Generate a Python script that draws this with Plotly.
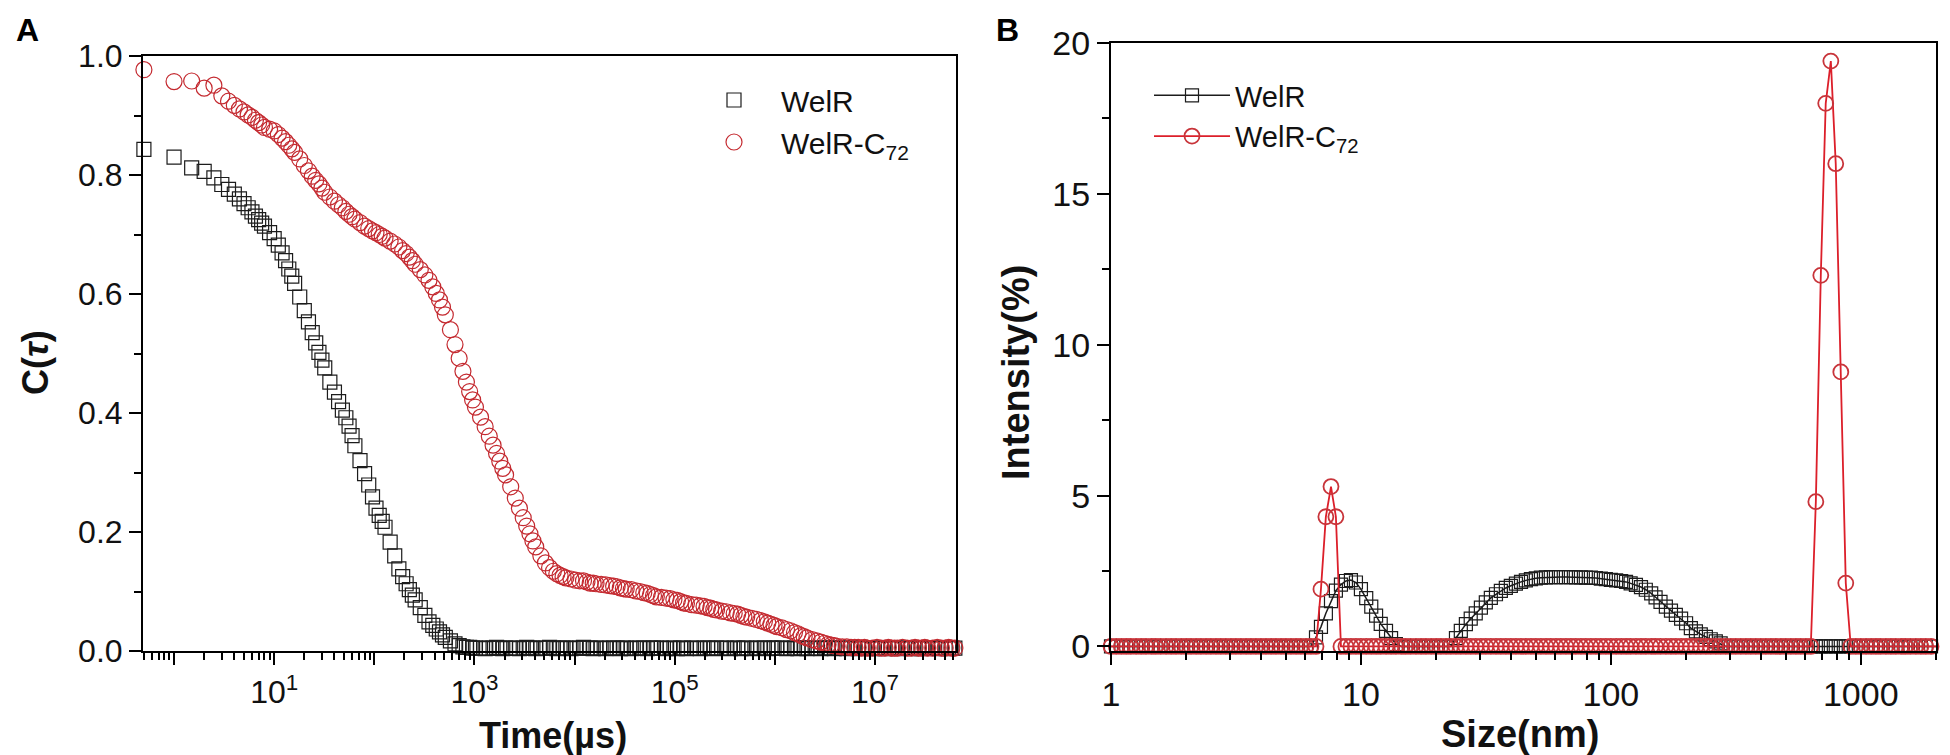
import plotly.graph_objects as go

# ---- panel A: autocorrelation C(tau) on the multi-tau lag grid (us) ----
TIME_US = [
    0.5, 1, 1.5, 2, 2.5, 3, 3.5, 4, 4.5, 5, 5.5, 6, 6.5, 7, 7.5, 8,
    9, 10, 11, 12, 13, 14, 15, 16,
    18, 20, 22, 24, 26, 28, 30, 32,
    36, 40, 44, 48, 52, 56, 60, 64,
    72, 80, 88, 96, 104, 112, 120, 128,
    144, 160, 176, 192, 208, 224, 240, 256,
    288, 320, 352, 384, 416, 448, 480, 512,
    576, 640, 704, 768, 832, 896, 960, 1024,
    1152, 1280, 1408, 1536, 1664, 1792, 1920, 2048,
    2304, 2560, 2816, 3072, 3328, 3584, 3840, 4096,
    4608, 5120, 5632, 6144, 6656, 7168, 7680, 8192,
    9216, 10240, 11264, 12288, 13312, 14336, 15360, 16384,
    18432, 20480, 22528, 24576, 26624, 28672, 30720, 32768,
    36864, 40960, 45056, 49152, 53248, 57344, 61440, 65536,
    73728, 81920, 90112, 98304, 106496, 114688, 122880, 131072,
    147456, 163840, 180224, 196608, 212992, 229376, 245760, 262144,
    294912, 327680, 360448, 393216, 425984, 458752, 491520, 524288,
    589824, 655360, 720896, 786432, 851968, 917504, 983040, 1048576,
    1179648, 1310720, 1441792, 1572864, 1703936, 1835008, 1966080, 2097152,
    2359296, 2621440, 2883584, 3145728, 3407872, 3670016, 3932160, 4194304,
    4718592, 5242880, 5767168, 6291456, 6815744, 7340032, 7864320, 8388608,
    9437184, 10485760, 11534336, 12582912, 13631488, 14680064, 15728640, 16777216,
    18874368, 20971520, 23068672, 25165824, 27262976, 29360128, 31457280, 33554432,
    37748736, 41943040, 46137344, 50331648, 54525952, 58720256, 62914560,
]
CT_WELR = [
    0.843, 0.830, 0.812, 0.806, 0.795, 0.784, 0.776, 0.768, 0.760, 0.752, 0.745, 0.738, 0.731, 0.725, 0.719, 0.714,
    0.703, 0.693, 0.682, 0.669, 0.656, 0.642, 0.630, 0.618,
    0.595, 0.572, 0.553, 0.535, 0.518, 0.502, 0.489, 0.476,
    0.452, 0.435, 0.419, 0.405, 0.392, 0.378, 0.362, 0.345,
    0.320, 0.298, 0.279, 0.259, 0.240, 0.228, 0.218, 0.208,
    0.183, 0.160, 0.138, 0.125, 0.113, 0.103, 0.094, 0.086,
    0.073, 0.060, 0.049, 0.043, 0.037, 0.032, 0.027, 0.023,
    0.017, 0.012, 0.009, 0.007, 0.006, 0.006, 0.005, 0.005,
    0.005, 0.004, 0.005, 0.005, 0.006, 0.005, 0.004, 0.005,
    0.005, 0.005, 0.004, 0.005, 0.006, 0.005, 0.005, 0.004,
    0.005, 0.005, 0.006, 0.005, 0.004, 0.005, 0.005, 0.005,
    0.004, 0.005, 0.005, 0.006, 0.005, 0.005, 0.004, 0.005,
    0.005, 0.004, 0.005, 0.005, 0.005, 0.004, 0.005, 0.005,
    0.004, 0.005, 0.005, 0.005, 0.004, 0.005, 0.005, 0.005,
    0.005, 0.004, 0.005, 0.005, 0.004, 0.005, 0.005, 0.004,
    0.005, 0.005, 0.004, 0.005, 0.005, 0.005, 0.004, 0.005,
    0.005, 0.005, 0.004, 0.005, 0.005, 0.004, 0.005, 0.005,
    0.004, 0.005, 0.005, 0.005, 0.004, 0.005, 0.005, 0.005,
    0.005, 0.004, 0.005, 0.005, 0.004, 0.005, 0.005, 0.004,
    0.005, 0.005, 0.004, 0.005, 0.005, 0.005, 0.004, 0.005,
    0.005, 0.004, 0.005, 0.005, 0.004, 0.005, 0.005, 0.005,
    0.004, 0.005, 0.005, 0.004, 0.005, 0.005, 0.005, 0.004,
    0.005, 0.005, 0.004, 0.005, 0.005, 0.004, 0.005, 0.005,
    0.005, 0.004, 0.005, 0.005, 0.004, 0.005, 0.005,
]
CT_C72 = [
    0.977, 0.957, 0.958, 0.946, 0.951, 0.933, 0.924, 0.917, 0.911, 0.906, 0.901, 0.897, 0.892, 0.888, 0.884, 0.880,
    0.877, 0.874, 0.868, 0.862, 0.856, 0.850, 0.844, 0.838,
    0.827, 0.816, 0.807, 0.798, 0.791, 0.785, 0.778, 0.771,
    0.763, 0.756, 0.750, 0.745, 0.739, 0.734, 0.730, 0.726,
    0.720, 0.714, 0.710, 0.706, 0.703, 0.700, 0.697, 0.694,
    0.689, 0.684, 0.679, 0.673, 0.668, 0.662, 0.656, 0.650,
    0.641, 0.632, 0.623, 0.612, 0.601, 0.590, 0.578, 0.565,
    0.540, 0.515, 0.492, 0.470, 0.452, 0.436, 0.422, 0.410,
    0.393, 0.377, 0.361, 0.346, 0.332, 0.319, 0.307, 0.296,
    0.276, 0.257, 0.240, 0.224, 0.210, 0.197, 0.185, 0.175,
    0.160, 0.148, 0.140, 0.134, 0.130, 0.127, 0.125, 0.123,
    0.121, 0.119, 0.118, 0.118, 0.116, 0.114, 0.114, 0.113,
    0.112, 0.111, 0.110, 0.109, 0.108, 0.106, 0.105, 0.104,
    0.103, 0.101, 0.100, 0.098, 0.097, 0.095, 0.093, 0.091,
    0.090, 0.089, 0.088, 0.086, 0.085, 0.083, 0.081, 0.080,
    0.078, 0.077, 0.076, 0.075, 0.073, 0.072, 0.070, 0.069,
    0.067, 0.066, 0.064, 0.063, 0.062, 0.060, 0.058, 0.057,
    0.055, 0.053, 0.051, 0.049, 0.047, 0.045, 0.043, 0.041,
    0.039, 0.036, 0.034, 0.031, 0.029, 0.026, 0.024, 0.022,
    0.019, 0.017, 0.015, 0.013, 0.011, 0.010, 0.009, 0.008,
    0.007, 0.007, 0.006, 0.006, 0.006, 0.005, 0.006, 0.005,
    0.005, 0.006, 0.005, 0.005, 0.006, 0.005, 0.005, 0.005,
    0.006, 0.005, 0.005, 0.006, 0.005, 0.005, 0.006, 0.005,
    0.005, 0.006, 0.005, 0.005, 0.006, 0.005, 0.005,
]

# ---- panel B: size distribution, 50 log bins per decade from 1 to 2000 nm ----
MANTISSA = [
    1.00, 1.05, 1.10, 1.15, 1.20, 1.26, 1.32, 1.38, 1.45, 1.51,
    1.58, 1.66, 1.74, 1.82, 1.91, 2.00, 2.09, 2.19, 2.29, 2.40,
    2.51, 2.63, 2.75, 2.88, 3.02, 3.16, 3.31, 3.47, 3.63, 3.80,
    3.98, 4.17, 4.37, 4.57, 4.79, 5.01, 5.25, 5.50, 5.75, 6.03,
    6.31, 6.61, 6.92, 7.24, 7.59, 7.94, 8.32, 8.71, 9.12, 9.55,
]
SIZE_NM = [round(m * 10 ** d, 2) for d in range(4) for m in MANTISSA if m * 10 ** d <= 2000]

INT_WELR = ([0.0] * 41
            + [0.30, 0.65, 1.10, 1.50, 1.85, 2.05, 2.17, 2.20, 2.12, 1.90, 1.60, 1.32, 1.02, 0.75, 0.52, 0.28, 0.08]
            + [0.0] * 11
            + [0.28, 0.52, 0.74, 0.92, 1.10, 1.29, 1.46, 1.61, 1.73, 1.84, 1.94, 2.01, 2.08, 2.14, 2.19, 2.23, 2.26,
               2.28, 2.29, 2.30, 2.30, 2.30, 2.30, 2.30, 2.29, 2.29, 2.28, 2.28, 2.27, 2.25, 2.23, 2.21, 2.19, 2.17,
               2.14, 2.09, 2.04, 1.97, 1.88, 1.76, 1.63, 1.48, 1.32, 1.19, 1.05, 0.92, 0.77, 0.61, 0.50, 0.40, 0.32,
               0.24, 0.17, 0.10]
            + [0.0] * 43)
INT_C72 = ([0.0] * 42
           + [1.9, 4.3, 5.3, 4.3]
           + [0.0] * 95
           + [4.8, 12.3, 18.0, 19.4, 16.0, 9.1, 2.1]
           + [0.0] * 18)

A_TICKS = [1, 10, 100, 1000, 10000, 100000, 1000000, 10000000]
A_TICKTEXT = ["", "10<sup>1</sup>", "", "10<sup>3</sup>", "", "10<sup>5</sup>", "", "10<sup>7</sup>"]
B_TICKS = [1, 10, 100, 1000]
B_TICKTEXT = ["1", "10", "100", "1000"]
B_YTICKS = [0, 5, 10, 15, 20]

BLACK = "#1c1c1c"
RED = "#c42a30"
LINE_RED = "#dc1f2a"
W, H = 1950, 755
SANS = "Liberation Sans, Arial"

fig = go.Figure()
fig.add_trace(go.Scatter(x=TIME_US, y=CT_WELR, name="WelR", mode="markers", cliponaxis=False,
                         marker=dict(symbol="square-open", size=14, color=BLACK, line=dict(width=1.2))))
fig.add_trace(go.Scatter(x=TIME_US, y=CT_C72, name="WelR-C<sub>72</sub>", mode="markers", cliponaxis=False,
                         marker=dict(symbol="circle-open", size=16, color=RED, line=dict(width=1.2))))
fig.add_trace(go.Scatter(x=SIZE_NM, y=INT_WELR, name="WelR", mode="lines+markers", cliponaxis=False,
                         xaxis="x2", yaxis="y2", legend="legend2",
                         line=dict(color=BLACK, width=1.5),
                         marker=dict(symbol="square-open", size=13, color=BLACK, line=dict(width=1.2))))
fig.add_trace(go.Scatter(x=SIZE_NM, y=INT_C72, name="WelR-C<sub>72</sub>", mode="lines+markers", cliponaxis=False,
                         xaxis="x2", yaxis="y2", legend="legend2",
                         line=dict(color=LINE_RED, width=1.8),
                         marker=dict(symbol="circle-open", size=15, color="#c8343a", line=dict(width=1.8))))

axis_common = dict(showline=True, mirror=True, linecolor="black", linewidth=2, showgrid=False, zeroline=False,
                   ticks="outside", tickcolor="black", tickwidth=2, ticklen=12, automargin=False)
minor_common = dict(ticks="outside", ticklen=7, tickcolor="black", tickwidth=2, showgrid=False)
font_a = dict(family=SANS, size=32, color="#111111")
font_b = dict(family=SANS, size=34, color="#111111")

fig.update_layout(
    width=W, height=H, margin=dict(l=0, r=0, t=0, b=0),
    paper_bgcolor="white", plot_bgcolor="white",
    font=dict(family=SANS, color="#111111"),
    xaxis=dict(axis_common, type="log", domain=[135 / W, 948 / W], range=[-0.31, 7.81],
               tickmode="array", tickvals=A_TICKS, ticktext=A_TICKTEXT, tickfont=font_a,
               minor=dict(minor_common, dtick="D1"), anchor="y"),
    yaxis=dict(axis_common, domain=[1 - 643 / H, 1 - 48 / H], range=[0, 1.0], dtick=0.2, tickformat=".1f",
               tickfont=font_a, minor=dict(minor_common, dtick=0.1), anchor="x"),
    xaxis2=dict(axis_common, type="log", domain=[1103 / W, 1928 / W], range=[0, 3.301],
                tickmode="array", tickvals=B_TICKS, ticktext=B_TICKTEXT, tickfont=font_b,
                minor=dict(minor_common, dtick="D1"), anchor="y2"),
    yaxis2=dict(axis_common, domain=[1 - 643 / H, 1 - 35 / H], range=[-0.15, 20],
                tickmode="array", tickvals=B_YTICKS, tickfont=font_b,
                minor=dict(minor_common, dtick=2.5), anchor="x2"),
    legend=dict(x=679 / W, y=1 - 66 / H, xanchor="left", yanchor="top", bgcolor="rgba(0,0,0,0)",
                itemwidth=84, tracegroupgap=0,
                font=dict(family=SANS, size=30, color="#111111")),
    legend2=dict(x=1141 / W, y=1 - 62 / H, xanchor="left", yanchor="top", bgcolor="rgba(0,0,0,0)",
                 itemwidth=76, tracegroupgap=0,
                 font=dict(family=SANS, size=29, color="#111111")),
    showlegend=True,
)

title_a = dict(family=SANS, size=36, color="#111111")
title_b = dict(family=SANS, size=38, color="#111111")
fig.add_annotation(text="<b>Time(µs)</b>", x=545 / W, y=1 - 727 / H, xref="paper", yref="paper",
                   showarrow=False, xanchor="center", yanchor="middle", font=title_a)
fig.add_annotation(text="<b>Size(nm)</b>", x=1512 / W, y=1 - 726 / H, xref="paper", yref="paper",
                   showarrow=False, xanchor="center", yanchor="middle", font=title_b)
fig.add_annotation(text="<b>C(<i>τ</i>)</b>", x=28 / W, y=1 - 355 / H, xref="paper", yref="paper",
                   showarrow=False, xanchor="center", yanchor="middle", textangle=-90, font=title_a)
fig.add_annotation(text="<b>Intensity(%)</b>", x=1008 / W, y=1 - 365 / H, xref="paper", yref="paper",
                   showarrow=False, xanchor="center", yanchor="middle", textangle=-90, font=title_b)
panel_font = dict(family=SANS, size=32, color="black")
fig.add_annotation(text="<b>A</b>", x=6 / W, y=1 - 2 / H, xref="paper", yref="paper",
                   showarrow=False, xanchor="left", yanchor="top", font=panel_font)
fig.add_annotation(text="<b>B</b>", x=986 / W, y=1 - 2 / H, xref="paper", yref="paper",
                   showarrow=False, xanchor="left", yanchor="top", font=panel_font)

fig.write_html("out.html")
